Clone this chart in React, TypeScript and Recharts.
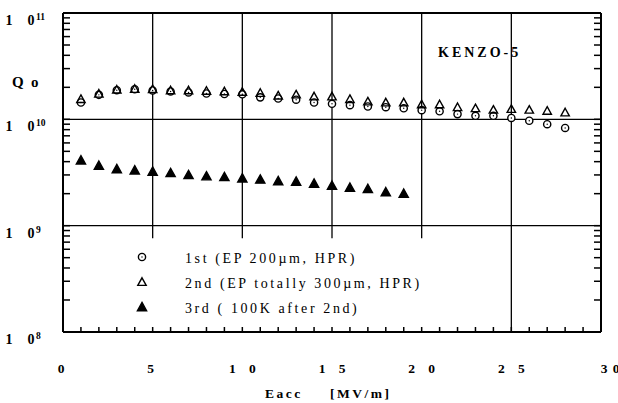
import { ReferenceLine, Scatter, ScatterChart, XAxis, YAxis } from 'recharts'

// Eacc [MV/m] and Qo.
const eacc12 = [1, 2, 3, 4, 5, 6, 7, 8, 9, 10, 11, 12, 13, 14, 15, 16, 17, 18, 19, 20, 21, 22, 23, 24, 25, 26, 27, 28]
const q1st = [
  1.44e10, 1.7e10, 1.88e10, 1.92e10, 1.87e10, 1.83e10, 1.79e10, 1.75e10, 1.73e10, 1.72e10,
  1.61e10, 1.57e10, 1.53e10, 1.44e10, 1.4e10, 1.36e10, 1.32e10, 1.3e10, 1.27e10, 1.22e10,
  1.19e10, 1.12e10, 1.08e10, 1.08e10, 1.03e10, 9.7e9, 9.0e9, 8.3e9,
]
const q2nd = [
  1.55e10, 1.74e10, 1.9e10, 1.93e10, 1.92e10, 1.87e10, 1.87e10, 1.85e10, 1.83e10, 1.81e10,
  1.77e10, 1.67e10, 1.71e10, 1.64e10, 1.64e10, 1.55e10, 1.47e10, 1.44e10, 1.44e10, 1.38e10,
  1.38e10, 1.3e10, 1.27e10, 1.23e10, 1.25e10, 1.23e10, 1.2e10, 1.16e10,
]
const eacc3 = [1, 2, 3, 4, 5, 6, 7, 8, 9, 10, 11, 12, 13, 14, 15, 16, 17, 18, 19]
const q3rd = [
  4.12e9, 3.67e9, 3.41e9, 3.32e9, 3.23e9, 3.13e9, 3.0e9, 2.92e9, 2.87e9, 2.79e9,
  2.72e9, 2.63e9, 2.6e9, 2.49e9, 2.38e9, 2.28e9, 2.22e9, 2.07e9, 2.0e9,
]
const seriesNames = ['1st (EP 200\u00b5m, HPR)', '2nd (EP totally 300\u00b5m, HPR)', '3rd ( 100K after 2nd)']

const xTicks = [0, 1, 2, 3, 4, 5, 6, 7, 8, 9, 10, 11, 12, 13, 14, 15, 16, 17, 18, 19, 20, 21, 22, 23, 24, 25, 26, 27, 28, 29, 30]
const xLabels = [0, 5, 10, 15, 20, 25, 30]
const decades = [1e8, 1e9, 1e10, 1e11]
const yTicks = decades.flatMap((d, i) =>
  i === decades.length - 1 ? [d] : [1, 2, 3, 4, 5, 6, 7, 8, 9].map((m) => m * d),
)
// vertical grid lines stop above the legend box, except the one at 25
const shortGrid = [5, 10, 15, 20]

const INK = '#000'
const SERIF = '"Liberation Serif", "Times New Roman", serif'

const rows1 = eacc12.map((x, i) => ({ x, q: q1st[i] }))
const rows2 = eacc12.map((x, i) => ({ x, q: q2nd[i] }))
const rows3 = eacc3.map((x, i) => ({ x, q: q3rd[i] }))

const isDecade = (v: number) => decades.some((d) => Math.abs(v - d) < d * 1e-6)

function OpenCircle({ cx, cy }: any) {
  return (
    <g>
      <circle cx={cx} cy={cy} r={3.6} fill="#fff" stroke={INK} strokeWidth={1.4} />
      <circle cx={cx} cy={cy} r={0.7} fill={INK} />
    </g>
  )
}

function Triangle({ cx, cy, filled }: any) {
  const s = filled ? 4.6 : 4.2
  return (
    <path
      d={`M${cx},${cy - s} L${cx + s},${cy + s * 0.8} L${cx - s},${cy + s * 0.8} Z`}
      fill={filled ? INK : 'none'}
      stroke={INK}
      strokeWidth={1.4}
      strokeLinejoin="miter"
    />
  )
}

function BottomLabel({ x, y, payload }: any) {
  const v = payload.value as number
  if (!xLabels.includes(v)) return <g />
  const chars = String(v).split('')
  const offs = chars.length === 1 ? [-2] : v === 30 ? [3, 15] : [-10, 10]
  return (
    <g>
      {chars.map((c, i) => (
        <text
          key={i}
          x={x + offs[i]}
          y={y + 41}
          textAnchor="middle"
          fontFamily={SERIF}
          fontWeight="bold"
          fontSize={13.5}
          fill={INK}
        >
          {c}
        </text>
      ))}
    </g>
  )
}

function LeftLabel({ y, payload }: any) {
  const v = payload.value as number
  if (!isDecade(v)) return <g />
  const exp = Math.round(Math.log10(v))
  return (
    <g fontFamily={SERIF} fontWeight="bold" fill={INK}>
      <text x={9} y={y + 12} textAnchor="middle" fontSize={14}>
        1
      </text>
      <text x={31} y={y + 12} textAnchor="middle" fontSize={14}>
        0
      </text>
      <text x={36} y={y + 7} fontSize={9.5}>
        {exp}
      </text>
    </g>
  )
}

const NoLabel = () => <g />

const axisLine = { stroke: INK, strokeWidth: 2 }
const tickLine = { stroke: INK, strokeWidth: 1.5 }

export default function App() {
  return (
    <div style={{ position: 'fixed', left: 0, top: 0, width: 618, height: 403, background: '#fff' }}>
      <ScatterChart width={618} height={403} margin={{ top: 12, right: 16, bottom: 70, left: 62 }}>
        <XAxis
          xAxisId={0}
          type="number"
          dataKey="x"
          domain={[0, 30]}
          ticks={xTicks}
          interval={0}
          height={1}
          tickSize={-5}
          tickMargin={5}
          tickLine={tickLine}
          axisLine={axisLine}
          tick={BottomLabel}
          allowDataOverflow
        />
        <XAxis
          xAxisId="top"
          orientation="top"
          type="number"
          domain={[0, 30]}
          ticks={xTicks}
          interval={0}
          height={1}
          tickSize={-5}
          tickLine={tickLine}
          axisLine={axisLine}
          tick={NoLabel}
          allowDataOverflow
        />
        <YAxis
          yAxisId={0}
          type="number"
          dataKey="q"
          scale="log"
          domain={[1e8, 1e11]}
          ticks={yTicks}
          interval={0}
          width={1}
          tickSize={-7}
          tickMargin={7}
          tickLine={tickLine}
          axisLine={axisLine}
          tick={LeftLabel}
          allowDataOverflow
        />
        <YAxis
          yAxisId="right"
          orientation="right"
          type="number"
          scale="log"
          domain={[1e8, 1e11]}
          ticks={yTicks}
          interval={0}
          width={1}
          tickSize={-7}
          tickLine={tickLine}
          axisLine={axisLine}
          tick={NoLabel}
          allowDataOverflow
        />
        <ReferenceLine y={1e10} stroke={INK} strokeWidth={1.3} />
        <ReferenceLine y={1e9} stroke={INK} strokeWidth={1.3} />
        <ReferenceLine x={25} stroke={INK} strokeWidth={1.3} />
        {shortGrid.map((g) => (
          <ReferenceLine
            key={g}
            segment={[
              { x: g, y: 1e11 },
              { x: g, y: 7.6e8 },
            ]}
            stroke={INK}
            strokeWidth={1.3}
          />
        ))}
        <Scatter name={seriesNames[0]} data={rows1} shape={<OpenCircle />} isAnimationActive={false} />
        <Scatter name={seriesNames[1]} data={rows2} shape={<Triangle />} isAnimationActive={false} />
        <Scatter name={seriesNames[2]} data={rows3} shape={<Triangle filled />} isAnimationActive={false} />
      </ScatterChart>
      <svg
        width={618}
        height={403}
        style={{ position: 'absolute', left: 0, top: 0, pointerEvents: 'none' }}
        fontFamily={SERIF}
        fill={INK}
      >
        <text x={12} y={87} fontSize={15} fontWeight="bold">
          Q
        </text>
        <text x={31} y={87} fontSize={15} fontWeight="bold">
          o
        </text>
        <text x={438} y={57} fontSize={14} fontWeight="bold" letterSpacing={3}>
          KENZO-5
        </text>
        <text x={265} y={398} fontSize={13.5} fontWeight="bold" letterSpacing={2.5}>
          Eacc
        </text>
        <text x={330} y={398} fontSize={13.5} fontWeight="bold" letterSpacing={2.5}>
          [MV/m]
        </text>
        {seriesNames.map((name, i) => {
          const cy = 257 + i * 25
          return (
            <g key={name}>
              {i === 0 ? (
                <OpenCircle cx={142} cy={cy} />
              ) : (
                <Triangle cx={142} cy={cy} filled={i === 2} />
              )}
              <text x={185} y={cy + 6} fontSize={14} letterSpacing={2.6}>
                {name}
              </text>
            </g>
          )
        })}
      </svg>
    </div>
  )
}
